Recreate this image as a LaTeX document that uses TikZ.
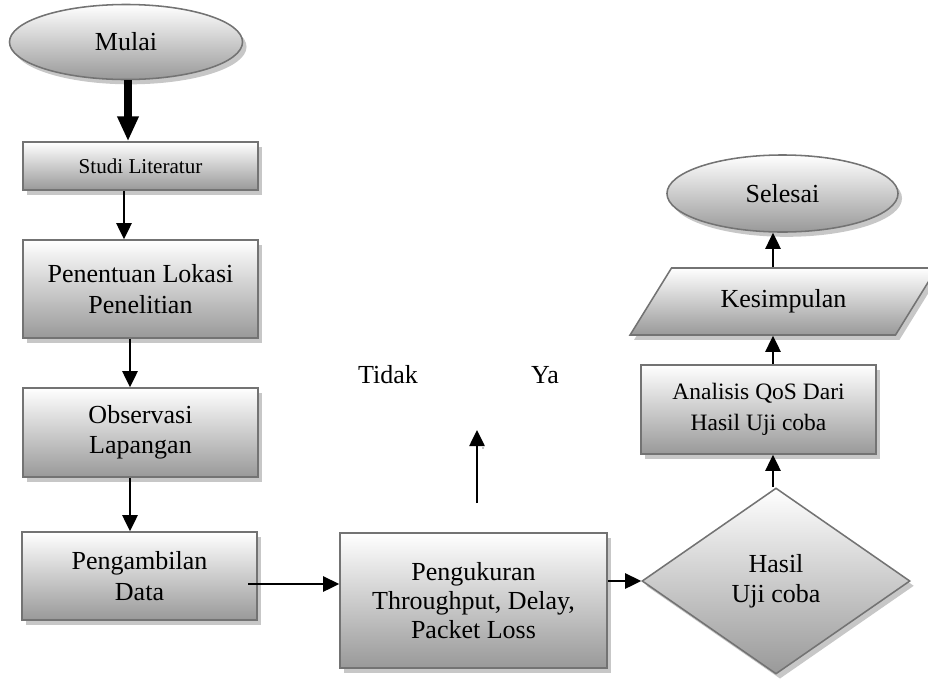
\documentclass[tikz,border=0pt]{standalone}
\usepackage{fontspec}
\setmainfont{Liberation Serif}
\usepackage{tikz}
\usetikzlibrary{shapes.geometric,shadows,arrows.meta}

\begin{document}
\begin{tikzpicture}
        [x=0.025cm,y=-0.025cm]
        \useasboundingbox (0,0) rectangle (928,679);
            \tikzstyle{every node}=[font=\fontsize{18.5}{21.5}\selectfont, align=center, inner sep=1pt]
            \tikzstyle{fig}=[draw=black!55, line width=1.1pt, top color=white, bottom color=gray!80,
        drop shadow={shadow xshift=0.1cm, shadow yshift=-0.12cm, fill=black!22, opacity=1}]
            \tikzstyle{box}=[fig, rectangle, minimum width=5.875cm]
            \tikzstyle{term}=[fig, ellipse]
            \tikzstyle{arr}=[line width=1.4pt, -{Triangle[length=0.4cm,width=0.38cm]}]
            \tikzstyle{bigarr}=[line width=5pt, -{Triangle[length=0.62cm,width=0.5cm]}]
        %-----kiri
         \node[term, minimum width=5.825cm, minimum height=1.875cm]  (mulai) at (126,42) {Mulai};
         \node[box, minimum height=1.2cm, font=\fontsize{15}{18}\selectfont]  (studi) at (140.5,166) {Studi Literatur};
         \node[box, minimum height=2.45cm]  (lokasi) at (140.5,289) {Penentuan Lokasi\\Penelitian};
         \node[box, minimum height=2.225cm]  (obs) at (140.5,432.5) {Observasi\\Lapangan};
         \node[box, minimum height=2.2cm]  (data) at (139.5,576) {Pengambilan\\Data};
        %-----tengah
         \node[box, minimum width=6.675cm, minimum height=3.375cm, font=\fontsize{18.5}{20.5}\selectfont]  (ukur) at (473.5,600.5) {Pengukuran\\Throughput, Delay,\\Packet Loss};
         \node  (tidak) at (388,375) {Tidak};
         \node  (ya) at (545,375) {Ya};
        %-----kanan
         \node[fig, diamond, inner sep=0pt, minimum width=6.7cm, minimum height=4.65cm]  (hasil) at (776,581) {Hasil\\Uji coba};
         \node[box, minimum height=2.225cm, font=\fontsize{16.7}{22}\selectfont]  (analisis) at (758.5,409.5) {Analisis QoS Dari\\Hasil Uji coba};
         \node[fig, trapezium, trapezium left angle=48, trapezium right angle=132, trapezium stretches=true,
               minimum width=7.675cm, minimum height=1.675cm]  (simpul) at (783.5,301.5) {Kesimpulan};
         \node[term, minimum width=5.775cm, minimum height=1.925cm]  (selesai) at (782.5,193.5) {Selesai};

          \coordinate (k1) at (128,0);
          \coordinate (k2) at (124,0);
          \coordinate (k3) at (130,0);
          \coordinate (b1) at (248,584);
          \coordinate (k4) at (773,0);
          \coordinate (up0) at (477,503);
          \coordinate (up1) at (477,430);

          \draw[bigarr] (mulai.south -| k1) -- (studi.north -| k1);
          \draw[arr] (studi.south -| k2) -- (lokasi.north -| k2);
          \draw[arr] (lokasi.south -| k3) -- (obs.north -| k3);
          \draw[arr] (obs.south -| k3) -- (data.north -| k3);
          \draw[arr] (b1) -- (ukur.west |- b1);
          \draw[arr] (ukur.east |- hasil.west) -- (hasil.west);
          \draw[arr] (up0) -- (up1);
          \fill (483,448) circle (0.7);

         \foreach \from/\to in {hasil/analisis, analisis/simpul, simpul/selesai}
         \draw[arr] (\from.north -| k4) -- (\to.south -| k4);

        \end{tikzpicture}
\end{document}
